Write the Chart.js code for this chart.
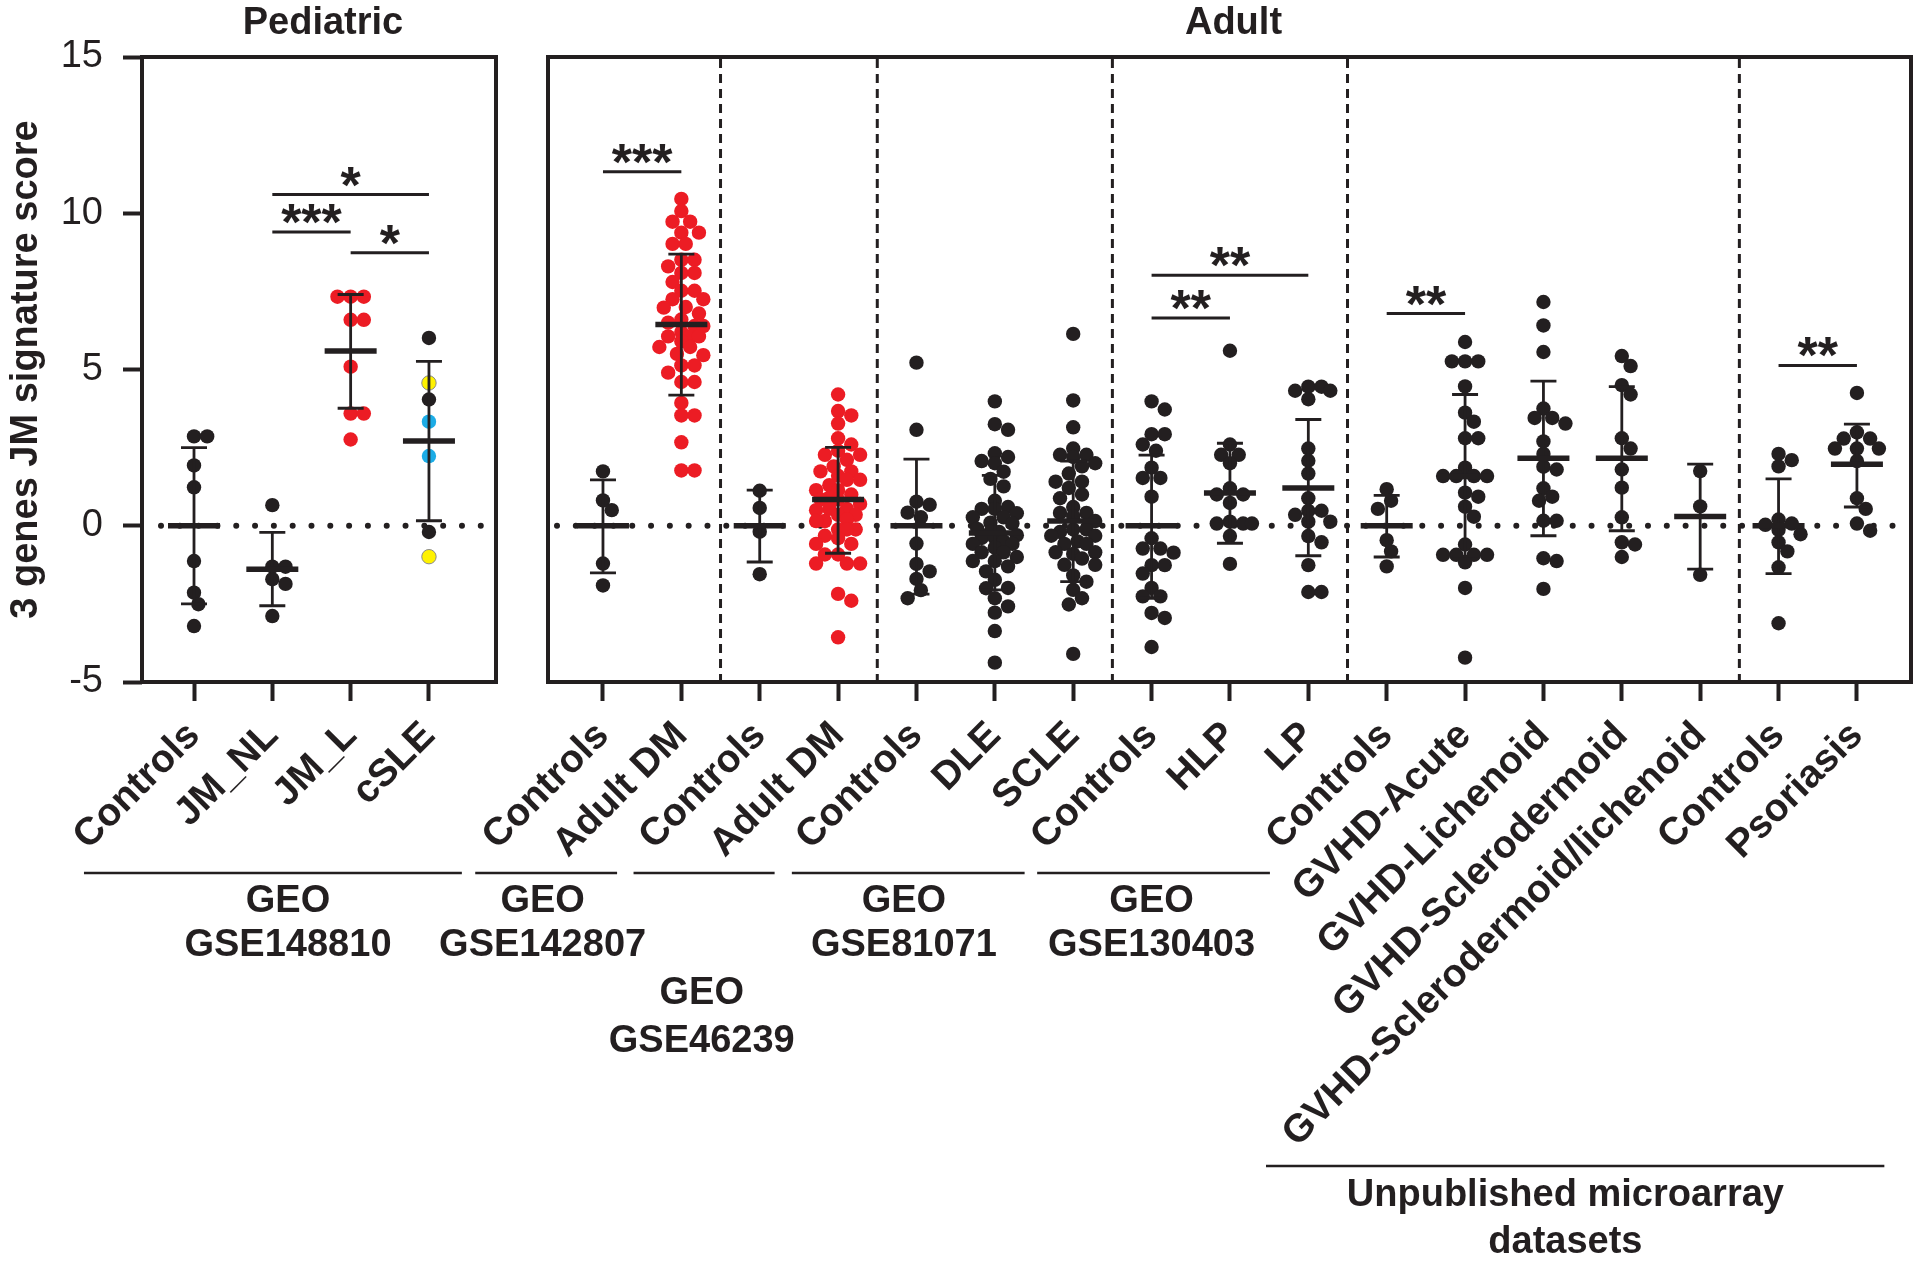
<!DOCTYPE html>
<html>
<head>
<meta charset="utf-8">
<script src="https://cdn.jsdelivr.net/npm/chart.js@4.4.1/dist/chart.umd.min.js"></script>
<style>
  html, body { margin: 0; padding: 0; background: #fff; }
  #wrap { position: relative; width: 1920px; height: 1261px; }
  #wrap canvas { position: absolute; left: 0; top: 0; }
</style>
</head>
<body>
<div id="wrap">
  <canvas id="pedCanvas" width="1920" height="1261"></canvas>
  <canvas id="adultCanvas" width="1920" height="1261"></canvas>
</div>
<script>
const ink = '#231f20';
const red = '#ec1c24';
const cyan = '#1cace6';
const yellow = '#fff200';

// ---- Pediatric (GEO GSE148810) ----
const pedCategories = ['Controls', 'JM_NL', 'JM_L', 'cSLE'];
const pedControls = [2.86, 2.86, 1.93, 1.23, -1.13, -2.14, -2.51, -3.21];
const pedJmNl = [0.66, -1.31, -1.31, -1.71, -1.86, -2.89];
const pedJmL = [7.33, 7.33, 7.33, 6.59, 6.59, 5.09, 3.59, 3.59, 2.76];
const pedCsle = [6.01, 4.57, 4.04, 3.33, 2.23, -0.2, -0.99];
const pedCsleColors = [ink, yellow, ink, cyan, cyan, ink, yellow];
const pedMeans = [0, -1.39, 5.59, 2.71];
const pedSdHigh = [2.5, -0.21, 7.4, 5.26];
const pedSdLow = [-2.5, -2.56, 3.76, 0.16];
// [from group, to group, y, label]
const pedSig = [[1, 3, 10.6, '*'], [1, 2, 9.4, '***'], [2, 3, 8.74, '*']];

// ---- Adult ----
const adultCategories = ['Controls', 'Adult DM', 'Controls', 'Adult DM', 'Controls', 'DLE', 'SCLE',
  'Controls', 'HLP', 'LP', 'Controls', 'GVHD-Acute', 'GVHD-Lichenoid', 'GVHD-Sclerodermoid',
  'GVHD-Sclerodermoid/lichenoid', 'Controls', 'Psoriasis'];
const ctrl142807 = [1.74, 0.81, 0.5, -1.21, -1.91];
const dm142807 = [10.46, 10.07, 9.73, 9.73, 9.38, 9.38, 9.02, 9.02, 8.51, 8.51, 8.3, 8.09, 8.09, 7.8,
  7.52, 7.52, 7.25, 7.25, 7.0, 6.98, 6.79, 6.6, 6.5, 6.39, 6.39, 6.2, 6.06, 6.06, 6.06, 5.9, 5.72,
  5.72, 5.5, 5.46, 5.13, 5.13, 4.9, 4.6, 4.6, 3.93, 3.53, 3.53, 2.67, 1.77, 1.77];
const ctrl46239 = [1.12, 0.57, -0.19, -1.55];
const dm46239 = [4.2, 3.67, 3.53, 3.27, 2.8, 2.6, 2.4, 2.27, 2.27, 2.11, 1.9, 1.74, 1.74, 1.6, 1.47,
  1.47, 1.3, 1.14, 1.14, 1.0, 0.9, 0.84, 0.84, 0.7, 0.54, 0.54, 0.5, 0.35, 0.35, 0.2, 0.15, 0.15,
  -0.12, -0.12, -0.12, -0.32, -0.4, -0.58, -0.58, -0.92, -0.92, -1.21, -1.21, -1.21, -2.18, -2.4, -3.57];
const ctrl81071 = [5.22, 3.07, 0.77, 0.67, 0.42, 0.27, -0.57, -1.22, -1.46, -1.7, -2.06, -2.32];
const dle = [3.98, 3.25, 3.07, 2.32, 2.2, 2.07, 2.0, 1.73, 1.5, 1.26, 0.8, 0.6, 0.54, 0.54, 0.4, 0.27,
  0.27, 0.1, 0.07, -0.1, -0.2, -0.2, -0.3, -0.39, -0.39, -0.5, -0.58, -0.58, -0.7, -0.85, -0.85, -1.0,
  -1.13, -1.13, -1.3, -1.46, -1.73, -1.99, -2.0, -2.32, -2.58, -2.78, -3.37, -4.38];
const scle = [6.14, 4.01, 3.15, 2.47, 2.27, 2.27, 2.2, 2.0, 1.9, 1.67, 1.41, 1.41, 1.21, 1.0, 0.88, 0.6,
  0.41, 0.41, 0.3, 0.15, -0.12, -0.12, -0.2, -0.32, -0.32, -0.5, -0.58, -0.58, -0.85, -0.85, -0.9,
  -1.05, -1.25, -1.25, -1.59, -1.79, -2.05, -2.32, -2.52, -4.1];
const ctrl130403 = [3.98, 3.72, 2.93, 2.93, 2.6, 2.4, 1.86, 1.53, 1.53, 0.93, -0.4, -0.73, -0.73, -0.86,
  -1.26, -1.26, -1.53, -1.99, -2.26, -2.26, -2.79, -2.95, -3.88];
const hlp = [5.6, 2.6, 2.27, 2.27, 2.0, 1.2, 1.0, 1.0, 0.73, 0.13, 0.07, 0.07, 0.07, -0.33, -1.22];
const lp = [4.45, 4.45, 4.32, 4.32, 4.05, 2.47, 2.08, 1.67, 0.88, 0.48, 0.48, 0.35, 0.13, 0.13, -0.33,
  -0.53, -1.26, -2.12, -2.12];
const ctrlGvhd = [1.17, 0.8, 0.54, -0.46, -0.82, -1.3];
const gvhdAcute = [5.88, 5.26, 5.26, 5.26, 4.46, 3.62, 3.33, 2.8, 2.8, 1.86, 1.59, 1.59, 1.59, 1.59,
  1.06, 0.93, 0.61, 0.29, -0.6, -0.93, -0.93, -0.93, -0.93, -1.17, -1.99, -4.22];
const gvhdLichenoid = [7.16, 6.41, 5.56, 3.75, 3.45, 3.45, 3.27, 2.7, 2.3, 1.89, 1.8, 1.2, 0.93, 0.8,
  0.16, 0.16, -1.04, -1.13, -2.02];
const gvhdSclero = [5.43, 5.11, 4.5, 4.2, 2.8, 2.47, 1.8, 1.22, 0.27, -0.53, -0.6, -1.0];
const gvhdScleroLich = [1.75, 0.62, -1.57];
const ctrlPso = [2.3, 2.1, 1.9, 0.2, 0.07, 0.03, -0.13, -0.27, -0.53, -0.82, -1.33, -3.12];
const psoriasis = [4.25, 2.99, 2.79, 2.79, 2.47, 2.47, 2.47, 2.07, 0.88, 0.54, 0.07, -0.16];
const adultMeans = [0, 6.44, 0, 0.84, 0, -0.23, 0.15, 0, 1.05, 1.21, 0, 1.58, 2.16, 2.16, 0.3, 0, 1.97];
const adultSdHigh = [1.47, 8.69, 1.14, 2.51, 2.13, 1.61, 2.07, 2.26, 2.64, 3.4, 0.97, 4.2, 4.63, 4.45, 1.97, 1.5, 3.25];
const adultSdLow = [-1.51, 4.18, -1.16, -0.88, -2.19, -2.05, -1.79, -2.32, -0.56, -0.96, -1.0, -0.98, -0.32, -0.16, -1.39, -1.53, 0.6];
const adultSig = [[0, 1, 11.33, '***'], [7, 9, 8.02, '**'], [7, 8, 6.65, '**'], [10, 11, 6.79, '**'], [15, 16, 5.13, '**']];
const adultSeparators = [1.5, 3.5, 6.5, 9.5, 14.5];

const pedGroups = [pedControls, pedJmNl, pedJmL, pedCsle];
const pedColors = [ink, ink, red, pedCsleColors];
const adultGroups = [ctrl142807, dm142807, ctrl46239, dm46239, ctrl81071, dle, scle, ctrl130403, hlp, lp,
  ctrlGvhd, gvhdAcute, gvhdLichenoid, gvhdSclero, gvhdScleroLich, ctrlPso, psoriasis];
const adultColors = adultGroups.map((g, i) => (i === 1 || i === 3) ? red : ink);

Chart.defaults.font.family = '"Liberation Sans", Arial, Helvetica, sans-serif';
Chart.defaults.color = ink;

// approx pixels per unit, used only to spread overlapping dots
const PX_X = 78.4, PX_Y = 31.25;
const DOT_R = 7.2;

// spread dots sideways (max +-22 px), letting them overlap when crowded
function swarm(values) {
  const placed = [];
  const offs = new Array(values.length);
  const order = values.map((v, i) => i).sort((a, b) => values[b] - values[a]);
  const cands = [0];
  for (let k = 1; k <= 5; k++) cands.push(k * 4.4, -k * 4.4);
  for (const i of order) {
    const y = values[i] * PX_Y;
    let best = 0, bestD = -1;
    for (const c of cands) {
      const d = placed.reduce((m, p) => Math.min(m, Math.hypot(p.x - c, p.y - y)), 1e9);
      if (d >= 12) { best = c; bestD = d; break; }
      if (d > bestD + 2) { bestD = d; best = c; }
    }
    placed.push({ x: best, y });
    offs[i] = best / PX_X;
  }
  return offs;
}

function makeDatasets(groups, colors) {
  return groups.map((vals, gi) => {
    const offs = swarm(vals);
    const col = colors[gi];
    const bg = Array.isArray(col) ? col : vals.map(() => col);
    return {
      data: vals.map((v, i) => ({ x: gi + offs[i], y: v })),
      backgroundColor: bg,
      borderColor: bg.map(c => c === yellow ? '#8a8a8a' : c),
      borderWidth: bg.map(c => c === yellow ? 1 : 0),
      pointRadius: DOT_R,
      pointHoverRadius: DOT_R
    };
  });
}

function panelPlugin(cfg) {
  return {
    id: 'panel',
    beforeDatasetsDraw(chart) {
      const { ctx, chartArea: a, scales: { x, y } } = chart;
      ctx.save();
      // zero dotted line
      ctx.strokeStyle = ink;
      ctx.lineWidth = 6;
      ctx.lineCap = 'round';
      ctx.setLineDash([0.01, 18.8]);
      const y0 = y.getPixelForValue(0);
      ctx.beginPath();
      ctx.moveTo(a.left + cfg.dotStart, y0);
      ctx.lineTo(a.right - 4, y0);
      ctx.stroke();
      // dataset separators
      ctx.lineCap = 'butt';
      ctx.lineWidth = 3;
      ctx.setLineDash([9, 6]);
      (cfg.separators || []).forEach(s => {
        const px = x.getPixelForValue(s);
        ctx.beginPath();
        ctx.moveTo(px, a.top + 2);
        ctx.lineTo(px, a.bottom - 2);
        ctx.stroke();
      });
      ctx.restore();
    },
    afterDatasetsDraw(chart) {
      const { ctx, chartArea: a, scales: { x, y } } = chart;
      ctx.save();
      ctx.strokeStyle = ink;
      ctx.fillStyle = ink;
      // mean +/- SD
      cfg.means.forEach((m, i) => {
        const cx = x.getPixelForValue(i);
        const hi = y.getPixelForValue(cfg.hi[i]);
        const lo = y.getPixelForValue(cfg.lo[i]);
        const my = y.getPixelForValue(m);
        ctx.lineWidth = 2.8;
        ctx.beginPath();
        ctx.moveTo(cx, hi); ctx.lineTo(cx, lo);
        ctx.moveTo(cx - 13, hi); ctx.lineTo(cx + 13, hi);
        ctx.moveTo(cx - 13, lo); ctx.lineTo(cx + 13, lo);
        ctx.stroke();
        ctx.lineWidth = 5.5;
        ctx.beginPath();
        ctx.moveTo(cx - 26, my); ctx.lineTo(cx + 26, my);
        ctx.stroke();
      });
      // significance bars
      ctx.font = 'bold 52px "Liberation Sans", Arial, sans-serif';
      ctx.textAlign = 'center';
      ctx.textBaseline = 'alphabetic';
      cfg.sig.forEach(([g1, g2, v, lab]) => {
        const x1 = x.getPixelForValue(g1), x2 = x.getPixelForValue(g2);
        const py = y.getPixelForValue(v);
        ctx.lineWidth = 3;
        ctx.beginPath();
        ctx.moveTo(x1, py); ctx.lineTo(x2, py);
        ctx.stroke();
        ctx.fillText(lab, (x1 + x2) / 2, py + 8);
      });
      // frame
      ctx.lineWidth = 4;
      ctx.strokeRect(a.left, a.top, a.right - a.left, a.bottom - a.top);
      // panel title
      ctx.font = 'bold 38px "Liberation Sans", Arial, sans-serif';
      ctx.textBaseline = 'middle';
      ctx.fillText(cfg.title, (a.left + a.right) / 2 + 4, 24);
      // dataset source annotations under the axis
      cfg.sources.forEach(s => {
        ctx.lineWidth = 2.5;
        ctx.beginPath();
        ctx.moveTo(x.getPixelForValue(s.from), s.lineY);
        ctx.lineTo(x.getPixelForValue(s.to), s.lineY);
        ctx.stroke();
        s.text.forEach((t, k) => ctx.fillText(t, x.getPixelForValue(s.center), s.textY[k]));
      });
      ctx.restore();
    }
  };
}

function xAxis(cats, min, max) {
  return {
    type: 'linear',
    min, max,
    afterBuildTicks: s => { s.ticks = cats.map((c, i) => ({ value: i })); },
    afterFit: s => { s.height = 1261 - 682; },
    ticks: {
      callback: v => cats[v],
      autoSkip: false,
      minRotation: 45,
      maxRotation: 45,
      padding: 12,
      color: ink,
      font: { size: 39, weight: 'bold' }
    },
    grid: { drawOnChartArea: false, tickLength: 19, tickWidth: 4, tickColor: ink },
    border: { display: false }
  };
}

new Chart(document.getElementById('pedCanvas'), {
  type: 'scatter',
  data: { datasets: makeDatasets(pedGroups, pedColors) },
  options: {
    responsive: false,
    animation: false,
    layout: { padding: { top: 57, right: 1920 - 496, left: 0, bottom: 0 } },
    plugins: { legend: { display: false }, tooltip: { enabled: false } },
    scales: {
      x: xAxis(pedCategories, -0.664, 3.856),
      y: {
        min: -5, max: 15,
        afterFit: s => { s.width = 142; },
        ticks: { stepSize: 5, padding: 20, color: ink, font: { size: 38 } },
        grid: { drawOnChartArea: false, tickLength: 19, tickWidth: 4, tickColor: ink },
        border: { display: false },
        title: {
          display: true,
          text: '3 genes JM signature score',
          color: ink,
          font: { size: 38, weight: 'bold' },
          padding: { top: 4, bottom: 0 }
        }
      }
    }
  },
  plugins: [panelPlugin({
    title: 'Pediatric',
    dotStart: 19,
    means: pedMeans, hi: pedSdHigh, lo: pedSdLow,
    sig: pedSig,
    sources: [
      { from: -1.405, to: 3.42, lineY: 873, center: 1.2, text: ['GEO', 'GSE148810'], textY: [902, 946] }
    ]
  })]
});

new Chart(document.getElementById('adultCanvas'), {
  type: 'scatter',
  data: { datasets: makeDatasets(adultGroups, adultColors) },
  options: {
    responsive: false,
    animation: false,
    layout: { padding: { top: 57, right: 1920 - 1911, left: 548, bottom: 0 } },
    plugins: { legend: { display: false }, tooltip: { enabled: false } },
    scales: {
      x: xAxis(adultCategories, -0.7015, 16.69),
      y: { display: false, min: -5, max: 15 }
    }
  },
  plugins: [panelPlugin({
    title: 'Adult',
    dotStart: 9,
    separators: adultSeparators,
    means: adultMeans, hi: adultSdHigh, lo: adultSdLow,
    sig: adultSig,
    sources: [
      { from: -1.63, to: 0.18, lineY: 873, center: -0.77, text: ['GEO', 'GSE142807'], textY: [902, 946] },
      { from: 0.39, to: 2.19, lineY: 873, center: 1.26, text: ['GEO', 'GSE46239'], textY: [994, 1042] },
      { from: 2.41, to: 5.38, lineY: 873, center: 3.84, text: ['GEO', 'GSE81071'], textY: [902, 946] },
      { from: 5.54, to: 8.51, lineY: 873, center: 7.0, text: ['GEO', 'GSE130403'], textY: [902, 946] },
      { from: 8.46, to: 16.35, lineY: 1166, center: 12.28, text: ['Unpublished microarray', 'datasets'], textY: [1196, 1243] }
    ]
  })]
});
</script>
</body>
</html>
